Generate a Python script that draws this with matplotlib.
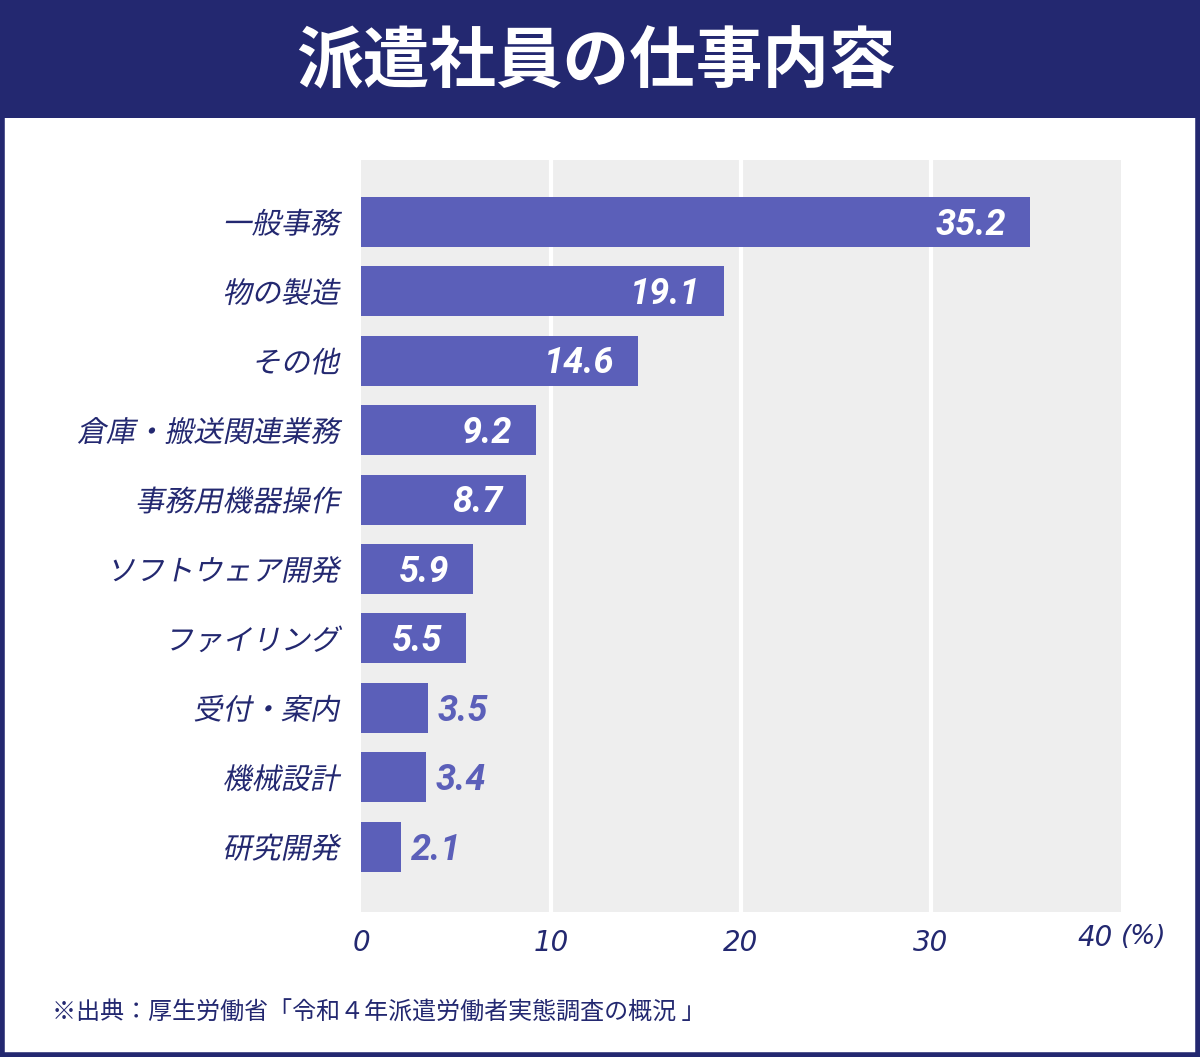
import matplotlib.pyplot as plt
from matplotlib.patches import Rectangle
from matplotlib.patheffects import AbstractPathEffect
from matplotlib.transforms import Affine2D

categories = ["一般事務", "物の製造", "その他", "倉庫・搬送関連業務", "事務用機器操作",
              "ソフトウェア開発", "ファイリング", "受付・案内", "機械設計", "研究開発"]
values = [35.2, 19.1, 14.6, 9.2, 8.7, 5.9, 5.5, 3.5, 3.4, 2.1]
xticks = [0, 10, 20, 30, 40]
title = "派遣社員の仕事内容"
source = "※出典：厚生労働省「令和４年派遣労働者実態調査の概況 」"

navy = "#232870"
bar_color = "#5b5fb9"
cjk = ["Noto Sans CJK JP", "DejaVu Sans"]


class Slant(AbstractPathEffect):
    # fake italic for CJK fonts that have no italic face
    def __init__(self, deg=12):
        super().__init__()
        self.deg = deg

    def draw_path(self, renderer, gc, tpath, affine, rgbFace=None):
        renderer.draw_path(gc, tpath, Affine2D().skew_deg(self.deg, 0) + affine, rgbFace)


fig = plt.figure(figsize=(12, 10.57), dpi=100)
fig.patch.set_facecolor("white")

# header band and outer frame
fig.add_artist(Rectangle((0, 1 - 118 / 1057), 1, 118 / 1057, transform=fig.transFigure,
                         facecolor=navy, edgecolor="none", zorder=0))
fig.add_artist(Rectangle((0.0015, 0.0017), 0.997, 0.997, transform=fig.transFigure,
                         facecolor="none", edgecolor=navy, linewidth=4, zorder=5))
fig.text(0.497, 1 - 63 / 1057, title, color="white", fontsize=48, fontweight="bold",
         family=cjk, ha="center", va="center")

ax = fig.add_axes([361 / 1200, 145 / 1057, 760 / 1200, 752 / 1057])
ax.set_facecolor("#eeeeee")
for s in ax.spines.values():
    s.set_visible(False)

y = list(range(len(categories)))
ax.barh(y, values, height=0.72, color=bar_color, zorder=3)
ax.set_xlim(0, 40)
ax.set_ylim(9.94, -0.89)

for g in xticks[1:-1]:
    ax.axvline(g, color="white", linewidth=3, zorder=1)

ax.set_yticks(y)
ax.set_yticklabels(categories)
for lab in ax.get_yticklabels():
    lab.set_family(cjk)
    lab.set_fontsize(21)
    lab.set_color(navy)
    lab.set_path_effects([Slant(12)])
ax.tick_params(axis="y", length=0, pad=16)

# last tick ("40 (%)") is drawn by hand so it can be shifted left like the original
ax.set_xticks(xticks)
ax.set_xticklabels([str(t) for t in xticks[:-1]] + [""])
for lab in ax.get_xticklabels():
    lab.set_family("DejaVu Sans")
    lab.set_style("oblique")
    lab.set_fontsize(20)
    lab.set_color(navy)
ax.tick_params(axis="x", length=0, pad=12)
ax.annotate(str(xticks[-1]), (xticks[-1], 0), xycoords=("data", "axes fraction"),
            xytext=(-6, -9), textcoords="offset points", ha="right", va="top",
            fontsize=20, style="oblique", color=navy, family="DejaVu Sans")
ax.annotate("(%)", (xticks[-1], 0), xycoords=("data", "axes fraction"),
            xytext=(0, -9), textcoords="offset points", ha="left", va="top",
            fontsize=19, style="oblique", color=navy, family="DejaVu Sans")

for yi, v in zip(y, values):
    if v > 5:
        ax.annotate(f"{v}", (v, yi), xytext=(-17, -2), textcoords="offset points",
                    ha="right", va="center", color="white", fontsize=26,
                    fontweight="bold", style="italic", family="Roboto", zorder=4)
    else:
        ax.annotate(f"{v}", (v, yi), xytext=(7, -2), textcoords="offset points",
                    ha="left", va="center", color=bar_color, fontsize=26,
                    fontweight="bold", style="italic", family="Roboto", zorder=4)

fig.text(52 / 1200, 1 - 1013 / 1057, source, color=navy, fontsize=17.3, family=cjk,
         ha="left", va="center")

fig.savefig("out.png", dpi=100)
